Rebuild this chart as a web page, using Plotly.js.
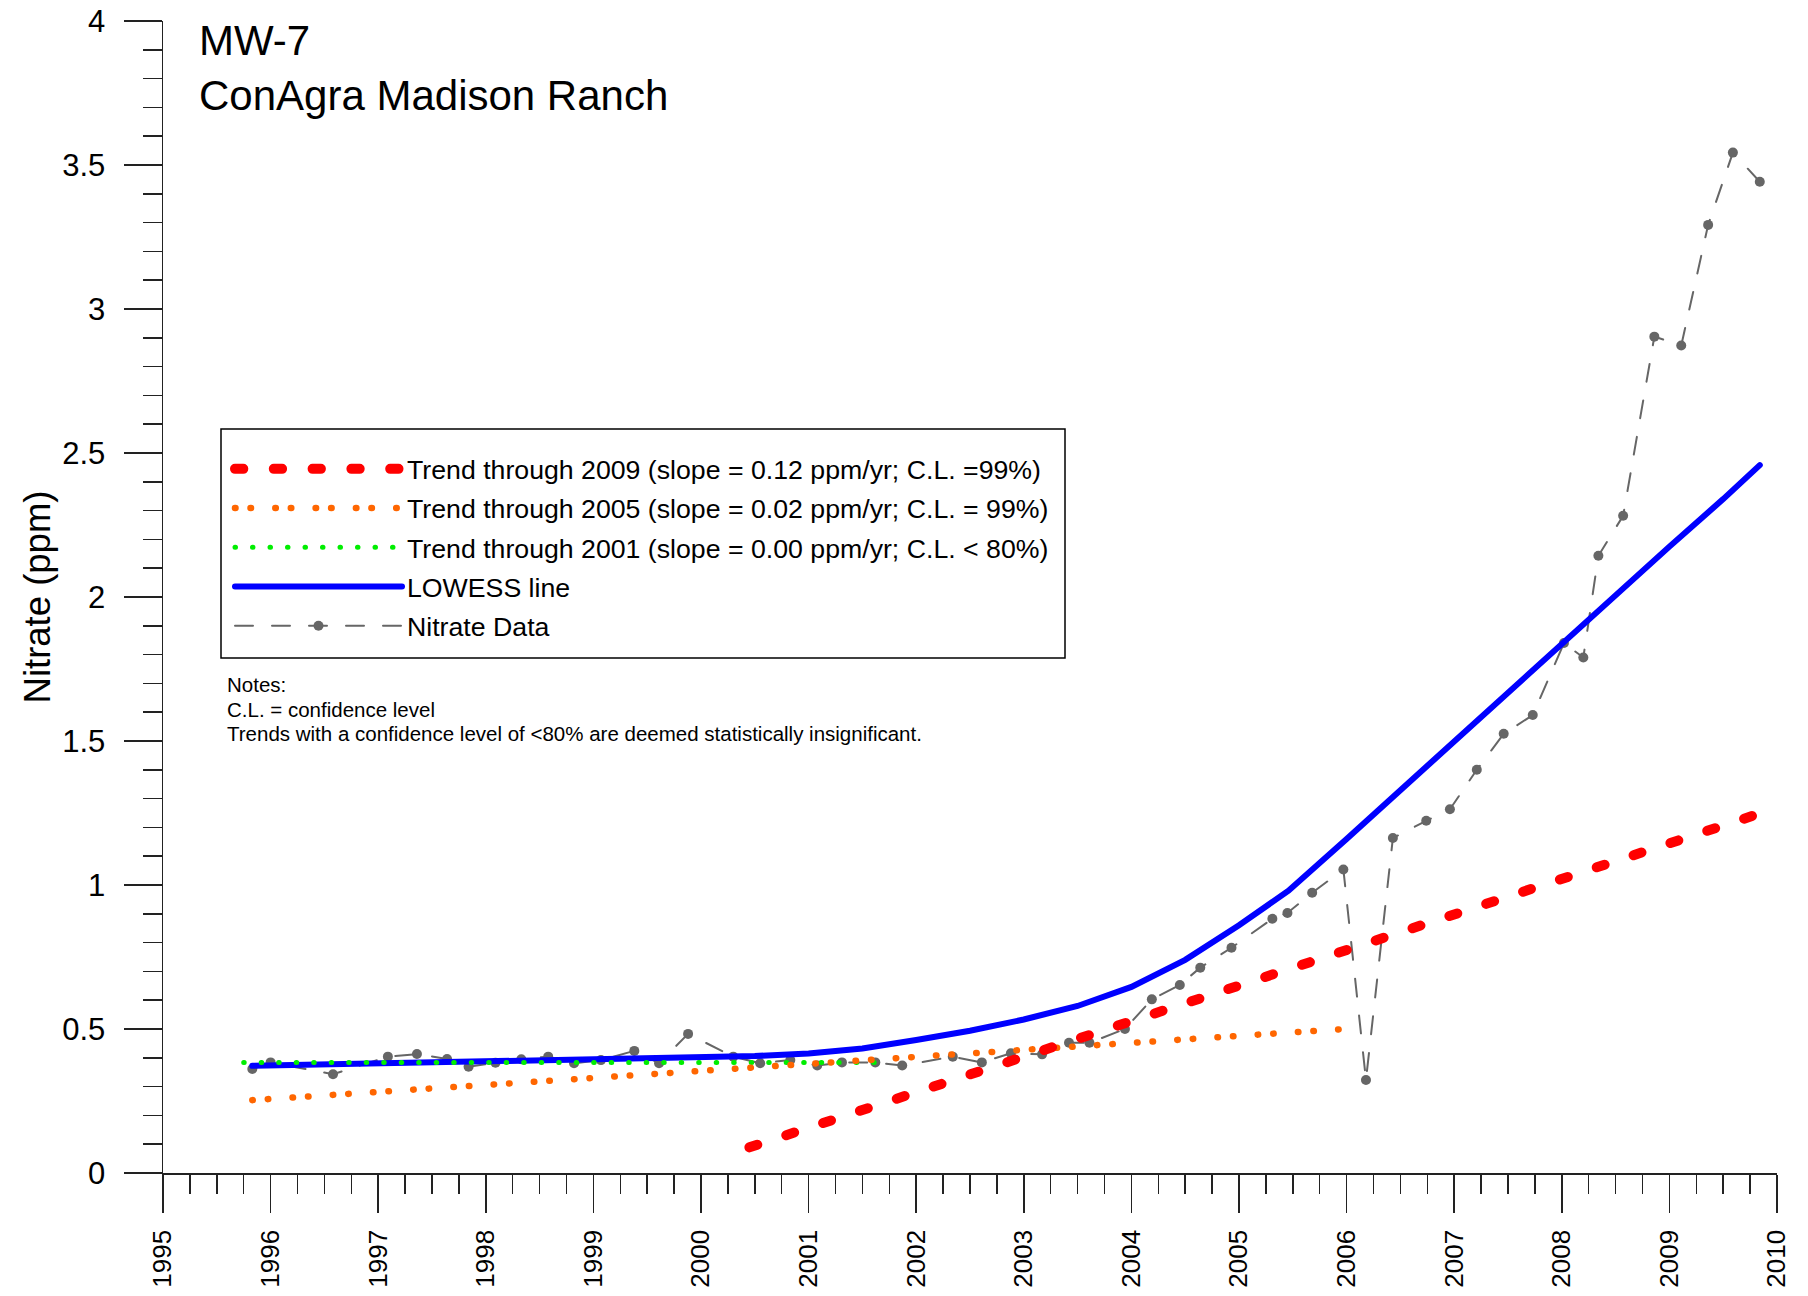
<!DOCTYPE html>
<html><head><meta charset="utf-8">
<script src="https://cdn.plot.ly/plotly-3.0.1.min.js"></script>
<style>
html,body{margin:0;padding:0;background:#fff;}
#chart{width:1808px;height:1296px;}
path.js-line{stroke-linecap:round !important;}
</style></head><body><div id="chart"></div>
<script>
// Nitrate data (decimal year, ppm)
const dataYears = [1995.83,1996.00,1996.58,1997.09,1997.36,1997.64,1997.84,1998.09,1998.33,1998.58,1998.82,1999.07,1999.38,1999.61,1999.88,2000.30,2000.55,2000.83,2001.08,2001.31,2001.62,2001.87,2002.34,2002.61,2002.88,2003.17,2003.42,2003.61,2003.94,2004.19,2004.45,2004.64,2004.93,2005.31,2005.45,2005.68,2005.97,2006.18,2006.43,2006.74,2006.96,2007.21,2007.46,2007.73,2008.02,2008.20,2008.34,2008.57,2008.86,2009.11,2009.36,2009.59,2009.84];
const nitrateValues = [0.361,0.384,0.343,0.404,0.413,0.396,0.369,0.383,0.395,0.404,0.381,0.392,0.424,0.381,0.483,0.404,0.381,0.392,0.373,0.384,0.384,0.373,0.404,0.384,0.416,0.412,0.452,0.452,0.500,0.603,0.653,0.713,0.782,0.883,0.903,0.973,1.054,0.323,1.163,1.223,1.263,1.400,1.525,1.590,1.840,1.790,2.143,2.282,2.904,2.873,3.292,3.543,3.442];

// LOWESS line
const lowessYears = [1995.83,1996.5,1997.0,1997.5,1998.0,1998.5,1999.0,1999.5,2000.0,2000.5,2001.0,2001.5,2002.0,2002.5,2003.0,2003.5,2004.0,2004.5,2005.0,2005.46,2006.0,2006.5,2007.0,2007.5,2008.0,2008.5,2009.0,2009.5,2009.84];
const lowessValues = [0.372,0.377,0.381,0.385,0.388,0.391,0.394,0.398,0.401,0.406,0.415,0.432,0.462,0.494,0.533,0.580,0.646,0.740,0.860,0.980,1.160,1.330,1.495,1.665,1.835,2.005,2.175,2.340,2.458];

// Trend lines
const trend2009Years = [2000.45, 2009.78];
const trend2009Values = [0.089, 1.241];
const trend2005Years = [1995.83, 2005.94];
const trend2005Values = [0.253, 0.499];
const trend2001Years = [1995.75, 2001.70];
const trend2001Values = [0.384, 0.384];

const seriesNames = [
  'Trend through 2009 (slope = 0.12 ppm/yr; C.L. =99%)',
  'Trend through 2005 (slope = 0.02 ppm/yr; C.L. = 99%)',
  'Trend through 2001 (slope = 0.00 ppm/yr; C.L. < 80%)',
  'LOWESS line',
  'Nitrate Data'
];
const titleText = 'MW-7<br>ConAgra Madison Ranch';
const yTitle = 'Nitrate (ppm)';
const notesLines = [
  'Notes:',
  'C.L. = confidence level',
  'Trends with a confidence level of &lt;80% are deemed statistically insignificant.'
];

const W = 1808, H = 1296;
const L = 163, R = 31, T = 21, B = 123;
const PW = W - L - R, PH = H - T - B;
const px = x => (x - L) / PW;
const py = y => 1 - (y - T) / PH;

const traces = [
  {x: dataYears, y: nitrateValues, name: seriesNames[4], mode: 'lines+markers', legendrank: 5, legendgroup: 'g5',
   line: {color: '#666666', width: 2, dash: '18px,19px'},
   marker: {color: '#666666', size: 10}},
  {x: lowessYears, y: lowessValues, name: seriesNames[3], mode: 'lines', legendrank: 4, legendgroup: 'g4',
   line: {color: '#0000ff', width: 6}},
  {x: trend2001Years, y: trend2001Values, name: seriesNames[2], mode: 'lines', legendrank: 3, legendgroup: 'g3',
   line: {color: '#00ee00', width: 5, dash: '0.5px,17px'}},
  {x: trend2005Years, y: trend2005Values, name: seriesNames[1], mode: 'lines', legendrank: 2, legendgroup: 'g2',
   line: {color: '#ff6600', width: 6.5, dash: '0.5px,15px,0.5px,24.3px'}},
  {x: trend2009Years, y: trend2009Values, name: seriesNames[0], mode: 'lines', legendrank: 1, legendgroup: 'g1',
   line: {color: '#ff0000', width: 10, dash: '8.3px,30.5px'}}
];

const axisCommon = {
  showline: true, linecolor: '#222', linewidth: 1.5, showgrid: false, zeroline: false,
  ticks: 'outside', ticklen: 38, tickwidth: 1.5, tickcolor: '#222', fixedrange: true
};

const notesY = [671, 695.7, 720];
const annotations = notesLines.map((t, i) => ({
  text: t, xref: 'paper', yref: 'paper', x: px(225), y: py(notesY[i]), xanchor: 'left', yanchor: 'top',
  align: 'left', showarrow: false, font: {size: 20.5, color: '#000'}
}));

const layout = {
  width: W, height: H,
  margin: {l: L, r: R, t: T, b: B},
  paper_bgcolor: '#ffffff', plot_bgcolor: '#ffffff',
  font: {family: 'Liberation Sans, Arial, sans-serif', color: '#000'},
  showlegend: true,
  title: {text: titleText, font: {size: 42, color: '#000'}, xref: 'paper', x: px(199), xanchor: 'left',
          yref: 'container', y: 1 - 55 / H, yanchor: 'top'},
  xaxis: Object.assign({}, axisCommon, {
    range: [1995, 2010], tickmode: 'linear', tick0: 1995, dtick: 1,
    tickangle: -90, tickfont: {size: 26, color: '#000'}, ticklabelstandoff: 7,
    minor: {tick0: 1995, dtick: 0.25, ticks: 'outside', ticklen: 19, tickwidth: 1.5, tickcolor: '#222', showgrid: false}
  }),
  yaxis: Object.assign({}, axisCommon, {
    range: [0, 4], tickmode: 'linear', tick0: 0, dtick: 0.5,
    tickfont: {size: 31, color: '#000'}, ticklabelstandoff: 12,
    minor: {tick0: 0, dtick: 0.1, ticks: 'outside', ticklen: 19, tickwidth: 1.5, tickcolor: '#222', showgrid: false},
    title: {text: yTitle, font: {size: 36.5, color: '#000'}, standoff: 0}
  }),
  legend: {x: px(230), y: py(445), xanchor: 'left', yanchor: 'top', bgcolor: 'rgba(0,0,0,0)',
           borderwidth: 0, font: {size: 26.7, color: '#000'}, itemwidth: 167,
           traceorder: 'grouped', tracegroupgap: 1.5},
  shapes: [{type: 'rect', xref: 'paper', yref: 'paper', x0: px(221), x1: px(1065), y0: py(658), y1: py(429),
            line: {color: '#000', width: 1.5}, fillcolor: 'rgba(0,0,0,0)', layer: 'above'}],
  annotations: annotations
};

Plotly.newPlot('chart', traces, layout, {displayModeBar: false, staticPlot: true});
</script></body></html>
